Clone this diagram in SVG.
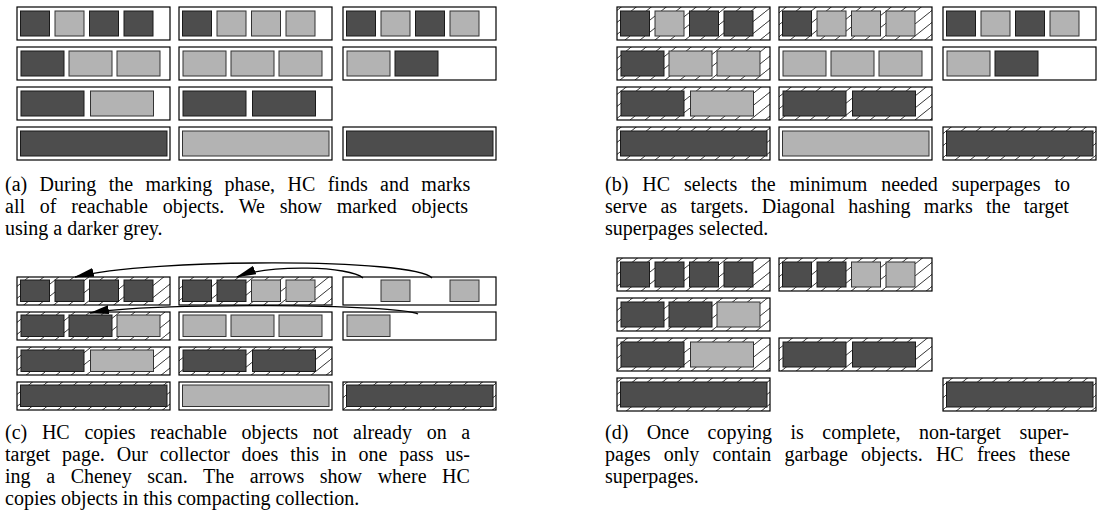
<svg xmlns="http://www.w3.org/2000/svg" width="1102" height="516" viewBox="0 0 1102 516">
<style>
.sp{fill:#fff;stroke:#000;stroke-width:1.2}
.hp{fill:url(#hatch);stroke:#000;stroke-width:1.2}
.d{fill:#4d4d4d;stroke:#1a1a1a;stroke-width:1}
.l{fill:#b3b3b3;stroke:#333;stroke-width:1}
.cap{font-family:"Liberation Serif","Times New Roman",serif;font-size:20px;fill:#000}
.arr{fill:none;stroke:#000;stroke-width:1.4;marker-end:url(#ah)}
</style>
<defs>
<pattern id="hatch" patternUnits="userSpaceOnUse" width="15" height="12">
<rect width="15" height="12" fill="#fff"/>
<path d="M0,12 L15,0 M-15,12 L0,0 M15,12 L30,0" stroke="#000" stroke-width="0.8"/>
</pattern>
<marker id="ah" viewBox="0 0 20 9" refX="19" refY="4.5" markerUnits="userSpaceOnUse" markerWidth="20" markerHeight="9" orient="auto">
<path d="M0,0 L20,4.5 L0,9 z" fill="#000"/>
</marker>
</defs>

<!-- Panel (a) -->
<g id="a-r1-c1"><rect class="sp" x="17" y="7" width="153" height="33"/><rect class="d" x="20.5" y="11" width="29" height="25"/><rect class="l" x="55" y="11" width="29" height="25"/><rect class="d" x="89.5" y="11" width="29" height="25"/><rect class="d" x="124" y="11" width="29" height="25"/></g>
<g id="a-r1-c2"><rect class="sp" x="179" y="7" width="153" height="33"/><rect class="d" x="182.5" y="11" width="29" height="25"/><rect class="l" x="217" y="11" width="29" height="25"/><rect class="l" x="251.5" y="11" width="29" height="25"/><rect class="l" x="286" y="11" width="29" height="25"/></g>
<g id="a-r1-c3"><rect class="sp" x="343" y="7" width="153" height="33"/><rect class="d" x="346.5" y="11" width="29" height="25"/><rect class="l" x="381" y="11" width="29" height="25"/><rect class="d" x="415.5" y="11" width="29" height="25"/><rect class="l" x="450" y="11" width="29" height="25"/></g>
<g id="a-r2-c1"><rect class="sp" x="17" y="47" width="153" height="33"/><rect class="d" x="21" y="51" width="43" height="25"/><rect class="l" x="69" y="51" width="43" height="25"/><rect class="l" x="117" y="51" width="43" height="25"/></g>
<g id="a-r2-c2"><rect class="sp" x="179" y="47" width="153" height="33"/><rect class="l" x="183" y="51" width="43" height="25"/><rect class="l" x="231" y="51" width="43" height="25"/><rect class="l" x="279" y="51" width="43" height="25"/></g>
<g id="a-r2-c3"><rect class="sp" x="343" y="47" width="153" height="33"/><rect class="l" x="347" y="51" width="43" height="25"/><rect class="d" x="395" y="51" width="43" height="25"/></g>
<g id="a-r3-c1"><rect class="sp" x="17" y="87" width="153" height="33"/><rect class="d" x="21" y="91" width="63" height="25"/><rect class="l" x="90.5" y="91" width="63" height="25"/></g>
<g id="a-r3-c2"><rect class="sp" x="179" y="87" width="153" height="33"/><rect class="d" x="183" y="91" width="63" height="25"/><rect class="d" x="252.5" y="91" width="63" height="25"/></g>
<g id="a-r4-c1"><rect class="sp" x="17" y="127" width="153" height="33"/><rect class="d" x="20.5" y="131" width="146.5" height="25"/></g>
<g id="a-r4-c2"><rect class="sp" x="179" y="127" width="153" height="33"/><rect class="l" x="182.5" y="131" width="146.5" height="25"/></g>
<g id="a-r4-c3"><rect class="sp" x="343" y="127" width="153" height="33"/><rect class="d" x="346.5" y="131" width="146.5" height="25"/></g>

<!-- Panel (b) -->
<g id="b-r1-c1"><rect class="hp" x="617" y="7" width="153" height="33"/><rect class="d" x="620.5" y="11" width="29" height="25"/><rect class="l" x="655" y="11" width="29" height="25"/><rect class="d" x="689.5" y="11" width="29" height="25"/><rect class="d" x="724" y="11" width="29" height="25"/></g>
<g id="b-r1-c2"><rect class="hp" x="779" y="7" width="153" height="33"/><rect class="d" x="782.5" y="11" width="29" height="25"/><rect class="l" x="817" y="11" width="29" height="25"/><rect class="l" x="851.5" y="11" width="29" height="25"/><rect class="l" x="886" y="11" width="29" height="25"/></g>
<g id="b-r1-c3"><rect class="sp" x="943" y="7" width="153" height="33"/><rect class="d" x="946.5" y="11" width="29" height="25"/><rect class="l" x="981" y="11" width="29" height="25"/><rect class="d" x="1015.5" y="11" width="29" height="25"/><rect class="l" x="1050" y="11" width="29" height="25"/></g>
<g id="b-r2-c1"><rect class="hp" x="617" y="47" width="153" height="33"/><rect class="d" x="621" y="51" width="43" height="25"/><rect class="l" x="669" y="51" width="43" height="25"/><rect class="l" x="717" y="51" width="43" height="25"/></g>
<g id="b-r2-c2"><rect class="sp" x="779" y="47" width="153" height="33"/><rect class="l" x="783" y="51" width="43" height="25"/><rect class="l" x="831" y="51" width="43" height="25"/><rect class="l" x="879" y="51" width="43" height="25"/></g>
<g id="b-r2-c3"><rect class="sp" x="943" y="47" width="153" height="33"/><rect class="l" x="947" y="51" width="43" height="25"/><rect class="d" x="995" y="51" width="43" height="25"/></g>
<g id="b-r3-c1"><rect class="hp" x="617" y="87" width="153" height="33"/><rect class="d" x="621" y="91" width="63" height="25"/><rect class="l" x="690.5" y="91" width="63" height="25"/></g>
<g id="b-r3-c2"><rect class="hp" x="779" y="87" width="153" height="33"/><rect class="d" x="783" y="91" width="63" height="25"/><rect class="d" x="852.5" y="91" width="63" height="25"/></g>
<g id="b-r4-c1"><rect class="hp" x="617" y="127" width="153" height="33"/><rect class="d" x="620.5" y="131" width="146.5" height="25"/></g>
<g id="b-r4-c2"><rect class="sp" x="779" y="127" width="153" height="33"/><rect class="l" x="782.5" y="131" width="146.5" height="25"/></g>
<g id="b-r4-c3"><rect class="hp" x="943" y="127" width="153" height="33"/><rect class="d" x="946.5" y="131" width="146.5" height="25"/></g>

<!-- Panel (c) -->
<g id="c-r1-c1"><rect class="hp" x="17" y="277" width="153" height="28"/><rect class="d" x="20.5" y="280" width="29" height="21.5"/><rect class="d" x="55" y="280" width="29" height="21.5"/><rect class="d" x="89.5" y="280" width="29" height="21.5"/><rect class="d" x="124" y="280" width="29" height="21.5"/></g>
<g id="c-r1-c2"><rect class="hp" x="179" y="277" width="153" height="28"/><rect class="d" x="182.5" y="280" width="29" height="21.5"/><rect class="d" x="217" y="280" width="29" height="21.5"/><rect class="l" x="251.5" y="280" width="29" height="21.5"/><rect class="l" x="286" y="280" width="29" height="21.5"/></g>
<g id="c-r1-c3"><rect class="sp" x="343" y="277" width="153" height="28"/><rect class="l" x="381" y="280" width="29" height="21.5"/><rect class="l" x="450" y="280" width="29" height="21.5"/></g>
<g id="c-r2-c1"><rect class="hp" x="17" y="312" width="153" height="28"/><rect class="d" x="21" y="315" width="43" height="21.5"/><rect class="d" x="69" y="315" width="43" height="21.5"/><rect class="l" x="117" y="315" width="43" height="21.5"/></g>
<g id="c-r2-c2"><rect class="sp" x="179" y="312" width="153" height="28"/><rect class="l" x="183" y="315" width="43" height="21.5"/><rect class="l" x="231" y="315" width="43" height="21.5"/><rect class="l" x="279" y="315" width="43" height="21.5"/></g>
<g id="c-r2-c3"><rect class="sp" x="343" y="312" width="153" height="28"/><rect class="l" x="347" y="315" width="43" height="21.5"/></g>
<g id="c-r3-c1"><rect class="hp" x="17" y="347" width="153" height="28"/><rect class="d" x="21" y="350" width="63" height="21.5"/><rect class="l" x="90.5" y="350" width="63" height="21.5"/></g>
<g id="c-r3-c2"><rect class="hp" x="179" y="347" width="153" height="28"/><rect class="d" x="183" y="350" width="63" height="21.5"/><rect class="d" x="252.5" y="350" width="63" height="21.5"/></g>
<g id="c-r4-c1"><rect class="hp" x="17" y="382" width="153" height="28"/><rect class="d" x="20.5" y="385" width="146.5" height="21.5"/></g>
<g id="c-r4-c2"><rect class="sp" x="179" y="382" width="153" height="28"/><rect class="l" x="182.5" y="385" width="146.5" height="21.5"/></g>
<g id="c-r4-c3"><rect class="hp" x="343" y="382" width="153" height="28"/><rect class="d" x="346.5" y="385" width="146.5" height="21.5"/></g>

<!-- Panel (d) -->
<g id="d-r1-c1"><rect class="hp" x="617" y="258" width="153" height="33"/><rect class="d" x="620.5" y="262" width="29" height="25"/><rect class="d" x="655" y="262" width="29" height="25"/><rect class="d" x="689.5" y="262" width="29" height="25"/><rect class="d" x="724" y="262" width="29" height="25"/></g>
<g id="d-r1-c2"><rect class="hp" x="779" y="258" width="153" height="33"/><rect class="d" x="782.5" y="262" width="29" height="25"/><rect class="d" x="817" y="262" width="29" height="25"/><rect class="l" x="851.5" y="262" width="29" height="25"/><rect class="l" x="886" y="262" width="29" height="25"/></g>
<g id="d-r2-c1"><rect class="hp" x="617" y="298" width="153" height="33"/><rect class="d" x="621" y="302" width="43" height="25"/><rect class="d" x="669" y="302" width="43" height="25"/><rect class="l" x="717" y="302" width="43" height="25"/></g>
<g id="d-r3-c1"><rect class="hp" x="617" y="338" width="153" height="33"/><rect class="d" x="621" y="342" width="63" height="25"/><rect class="l" x="690.5" y="342" width="63" height="25"/></g>
<g id="d-r3-c2"><rect class="hp" x="779" y="338" width="153" height="33"/><rect class="d" x="783" y="342" width="63" height="25"/><rect class="d" x="852.5" y="342" width="63" height="25"/></g>
<g id="d-r4-c1"><rect class="hp" x="617" y="378" width="153" height="33"/><rect class="d" x="620.5" y="382" width="146.5" height="25"/></g>
<g id="d-r4-c3"><rect class="hp" x="943" y="378" width="153" height="33"/><rect class="d" x="946.5" y="382" width="146.5" height="25"/></g>

<!-- Connectors -->
<g id="connectors">
<path class="arr" d="M432,278 C415,258 150,258 75,277"/>
<path class="arr" d="M363,278 C350,266 270,264 237,277"/>
<path class="arr" d="M418,314 C400,304 150,302 90,313"/>
</g>

<!-- Captions -->
<g id="captions">
<text class="cap" x="5" y="191" word-spacing="7.4">(a) During the marking phase, HC finds and marks</text>
<text class="cap" x="5" y="213" word-spacing="9.8">all of reachable objects. We show marked objects</text>
<text class="cap" x="5" y="235">using a darker grey.</text>
<text class="cap" x="605" y="191" word-spacing="8.9">(b) HC selects the minimum needed superpages to</text>
<text class="cap" x="605" y="213" word-spacing="8.3">serve as targets. Diagonal hashing marks the target</text>
<text class="cap" x="605" y="235">superpages selected.</text>
<text class="cap" x="5" y="439" word-spacing="9.7">(c) HC copies reachable objects not already on a</text>
<text class="cap" x="5" y="461" word-spacing="6.9">target page. Our collector does this in one pass us-</text>
<text class="cap" x="5" y="483" word-spacing="10.6">ing a Cheney scan. The arrows show where HC</text>
<text class="cap" x="5" y="505">copies objects in this compacting collection.</text>
<text class="cap" x="605" y="439" word-spacing="13.5">(d) Once copying is complete, non-target super-</text>
<text class="cap" x="605" y="461" word-spacing="8.2">pages only contain garbage objects. HC frees these</text>
<text class="cap" x="605" y="483">superpages.</text>
</g>
</svg>
